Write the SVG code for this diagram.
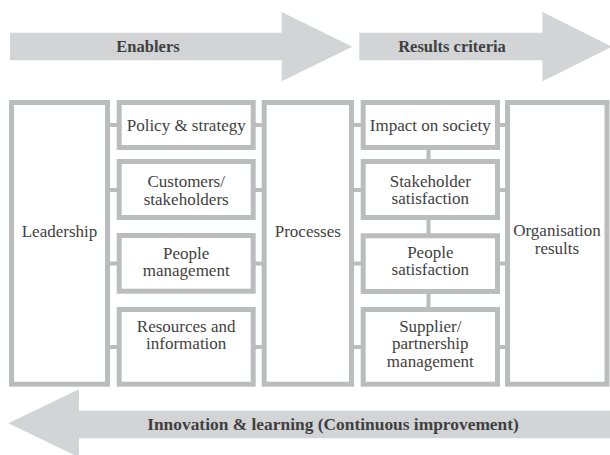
<svg xmlns="http://www.w3.org/2000/svg" width="610" height="455" viewBox="0 0 610 455">
<style>
.arrow{fill:#d3d4d6;stroke:none}
.box{fill:#ffffff;stroke:#bbbcbe;stroke-width:5}
.link{stroke:#bbbcbe;stroke-width:4;fill:none}
.t{font-family:"Liberation Serif","Times New Roman",serif;font-size:17px;fill:#3f3f3f;text-anchor:middle}
.h{font-family:"Liberation Serif","Times New Roman",serif;font-size:16.5px;font-weight:bold;fill:#3f3f3f;text-anchor:middle}
</style>
<rect width="610" height="455" fill="#ffffff"/>
<g id="arrow-enablers">
<path class="arrow" d="M10,32.7 H281.7 V12 L352.3,46.7 L281.7,81.3 V60.3 H10 Z"/>
<text class="h" x="148" y="52">Enablers</text>
</g>
<g id="arrow-results">
<path class="arrow" d="M359.3,32.7 H542.5 V12 L612,46.7 L542.5,81.3 V60.3 H359.3 Z"/>
<text class="h" x="452" y="52">Results criteria</text>
</g>
<g id="arrow-innovation">
<path class="arrow" d="M610,410.7 H79 V389.3 L8.3,423.3 L79,457.3 V438.3 H610 Z"/>
<text class="h" x="333" y="429.5" style="font-size:17.4px">Innovation &amp; learning (Continuous improvement)</text>
</g>
<g id="connectors">
<line class="link" x1="108" y1="125" x2="119" y2="125"/>
<line class="link" x1="108" y1="190" x2="119" y2="190"/>
<line class="link" x1="108" y1="263.5" x2="119" y2="263.5"/>
<line class="link" x1="108" y1="347" x2="119" y2="347"/>
<line class="link" x1="253" y1="125" x2="264" y2="125"/>
<line class="link" x1="253" y1="190" x2="264" y2="190"/>
<line class="link" x1="253" y1="263.5" x2="264" y2="263.5"/>
<line class="link" x1="253" y1="347" x2="264" y2="347"/>
<line class="link" x1="351" y1="125" x2="363" y2="125"/>
<line class="link" x1="351" y1="190" x2="363" y2="190"/>
<line class="link" x1="351" y1="263.5" x2="363" y2="263.5"/>
<line class="link" x1="351" y1="347" x2="363" y2="347"/>
<line class="link" x1="497" y1="125" x2="508" y2="125"/>
<line class="link" x1="497" y1="190" x2="508" y2="190"/>
<line class="link" x1="497" y1="263.5" x2="508" y2="263.5"/>
<line class="link" x1="497" y1="347" x2="508" y2="347"/>
<line class="link" x1="428.5" y1="147" x2="428.5" y2="162"/>
<line class="link" x1="428.5" y1="217" x2="428.5" y2="236"/>
<line class="link" x1="428.5" y1="291" x2="428.5" y2="310"/>
</g>
<g id="leadership">
<rect class="box" x="11.5" y="102.5" width="96" height="281.7"/>
<text class="t" x="59.5" y="237">Leadership</text>
</g>
<g id="policy-strategy">
<rect class="box" x="119.2" y="102.5" width="134" height="45"/>
<text class="t" x="186.2" y="131">Policy &amp; strategy</text>
</g>
<g id="customers-stakeholders">
<rect class="box" x="119.2" y="161.5" width="134" height="56"/>
<text class="t" x="186.2" y="187">Customers/</text>
<text class="t" x="186.2" y="204.5">stakeholders</text>
</g>
<g id="people-management">
<rect class="box" x="119.2" y="235.5" width="134" height="55.7"/>
<text class="t" x="186.2" y="258.5">People</text>
<text class="t" x="186.2" y="276">management</text>
</g>
<g id="resources-information">
<rect class="box" x="119.2" y="309.5" width="134" height="74.7"/>
<text class="t" x="186.2" y="331.7">Resources and</text>
<text class="t" x="186.2" y="349.2">information</text>
</g>
<g id="processes">
<rect class="box" x="264.2" y="102.5" width="87.3" height="281.7"/>
<text class="t" x="307.8" y="237">Processes</text>
</g>
<g id="impact-society">
<rect class="box" x="363.2" y="102.5" width="134.3" height="45"/>
<text class="t" x="430.3" y="130.5">Impact on society</text>
</g>
<g id="stakeholder-satisfaction">
<rect class="box" x="363.2" y="161.5" width="134.3" height="56"/>
<text class="t" x="430.3" y="186.5">Stakeholder</text>
<text class="t" x="430.3" y="204">satisfaction</text>
</g>
<g id="people-satisfaction">
<rect class="box" x="363.2" y="235.8" width="134.3" height="55.7"/>
<text class="t" x="430.3" y="257.5">People</text>
<text class="t" x="430.3" y="275">satisfaction</text>
</g>
<g id="supplier-partnership">
<rect class="box" x="363.2" y="309.5" width="134.3" height="74.7"/>
<text class="t" x="430.3" y="331.5">Supplier/</text>
<text class="t" x="430.3" y="349">partnership</text>
<text class="t" x="430.3" y="366.5">management</text>
</g>
<g id="organisation-results">
<rect class="box" x="507.5" y="102.5" width="99.5" height="281.7"/>
<text class="t" x="557" y="236">Organisation</text>
<text class="t" x="557" y="253.5">results</text>
</g>
</svg>
